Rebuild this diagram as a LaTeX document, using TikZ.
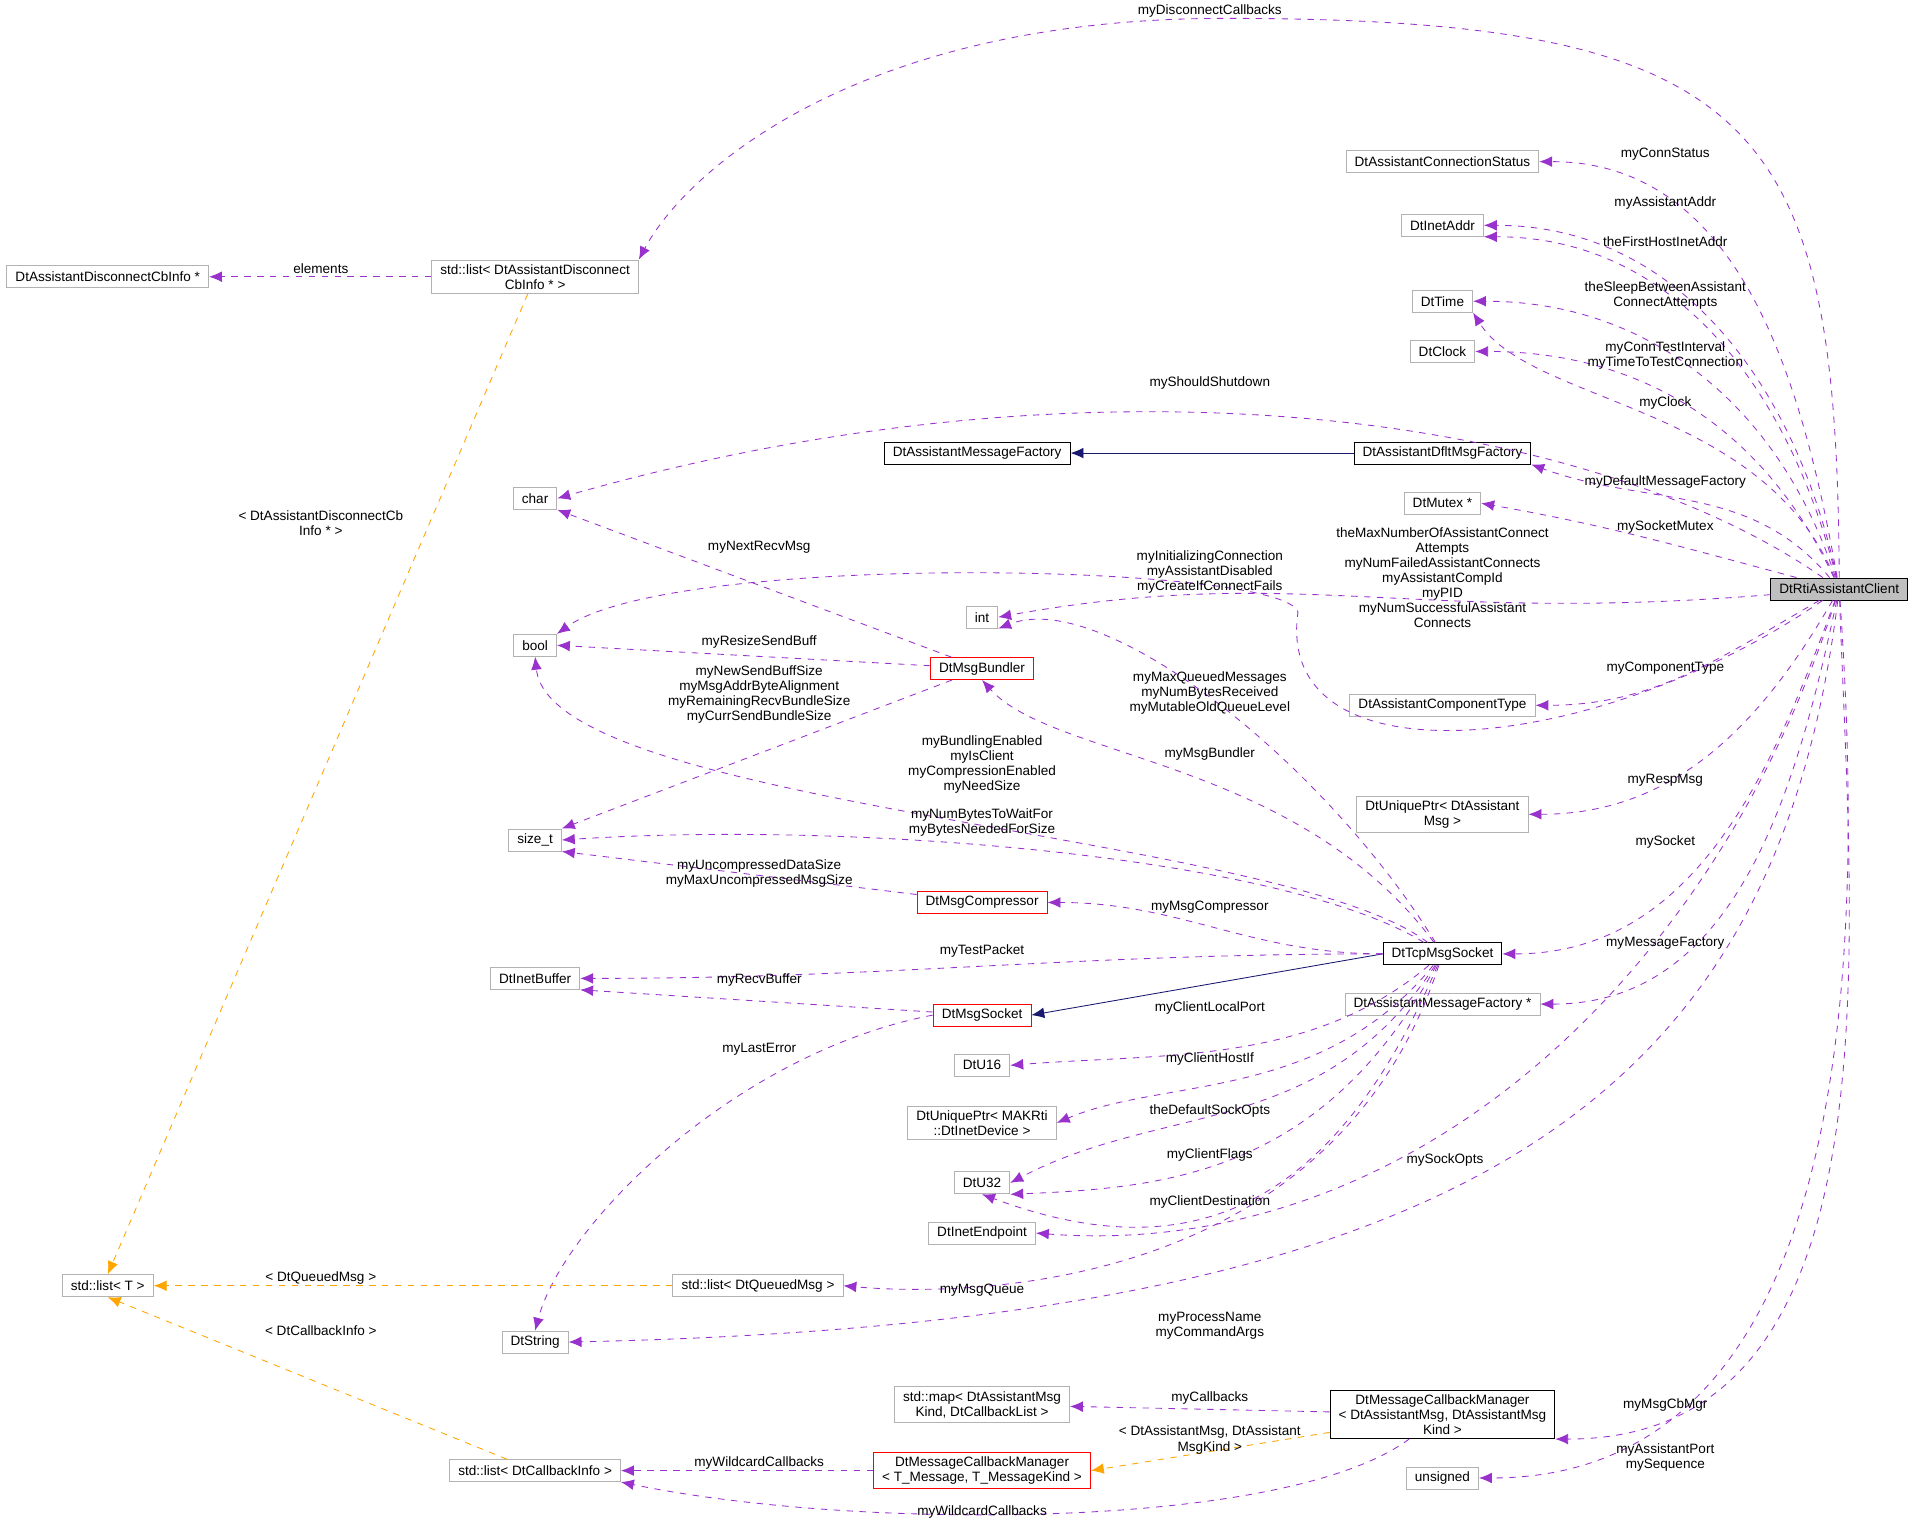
\documentclass[tikz,border=0pt]{standalone}
\usepackage{fontspec}
\setmainfont{Liberation Sans}
\usetikzlibrary{arrows.meta, calc}
\definecolor{memcol}{RGB}{153,50,204}
\definecolor{tplcol}{RGB}{255,165,0}
\definecolor{inhcol}{RGB}{25,25,112}

\begin{document}
\begin{tikzpicture}[x=0.02cm, y=-0.02cm, font=\fontsize{6.3}{7}\selectfont,
    box/.style={draw=gray!60, rectangle, inner xsep=4pt, inner ysep=2pt, minimum height=0.36cm, align=center},
    hbox/.style={box, draw=black},
    rbox/.style={box, draw=red},
    member/.style={dashed, draw=memcol, -{Latex[length=6pt, width=5pt]}},
    templ/.style={dashed, draw=tplcol, -{Latex[length=6pt, width=5pt]}},
    inherit/.style={draw=inhcol, -{Latex[length=6pt, width=5pt]}},
    lbl/.style={align=center, inner sep=0pt}]
    % Frame
    \useasboundingbox (0,0) rectangle (1568,1251);
    % Main class
    \node[hbox, fill=gray!50] (cl) at (1502,481) {DtRtiAssistantClient};
    % Right column
    \node[box] (cs) at (1178,132) {DtAssistantConnectionStatus};
    \node[box] (ia) at (1178,184) {DtInetAddr};
    \node[box] (tm) at (1178,246) {DtTime};
    \node[box] (ck) at (1178,287) {DtClock};
    \node[hbox] (df) at (1178,370) {DtAssistantDfltMsgFactory};
    \node[box] (mx) at (1178,411) {DtMutex *};
    \node[box] (ct) at (1178,576) {DtAssistantComponentType};
    \node[box] (up) at (1178,665) {DtUniquePtr< DtAssistant\\Msg >};
    \node[hbox] (tcp) at (1178,779) {DtTcpMsgSocket};
    \node[box] (mfp) at (1178,820) {DtAssistantMessageFactory *};
    \node[hbox] (mcm) at (1178,1155) {DtMessageCallbackManager\\< DtAssistantMsg, DtAssistantMsg\\Kind >};
    \node[box] (us) at (1178,1207) {unsigned};
    % Middle column
    \node[hbox] (mf) at (798,370) {DtAssistantMessageFactory};
    \node[box] (in) at (802,504) {int};
    \node[rbox] (bd) at (802,546) {DtMsgBundler};
    \node[rbox] (cp) at (802,737) {DtMsgCompressor};
    \node[rbox] (ms) at (802,829) {DtMsgSocket};
    \node[box] (u16) at (802,870) {DtU16};
    \node[box] (dev) at (802,917) {DtUniquePtr< MAKRti\\::DtInetDevice >};
    \node[box] (u32) at (802,966) {DtU32};
    \node[box] (ep) at (802,1007) {DtInetEndpoint};
    \node[box] (qm) at (619,1050) {std::list< DtQueuedMsg >};
    \node[box] (mp) at (802,1147) {std::map< DtAssistantMsg\\Kind, DtCallbackList >};
    \node[rbox] (tmcm) at (802,1201) {DtMessageCallbackManager\\< T\_Message, T\_MessageKind >};
    % Left columns
    \node[box] (dl) at (437,226) {std::list< DtAssistantDisconnect\\CbInfo * >};
    \node[box] (dci) at (88,226) {DtAssistantDisconnectCbInfo *};
    \node[box] (ch) at (437,407) {char};
    \node[box] (bo) at (437,527) {bool};
    \node[box] (sz) at (437,686) {size\_t};
    \node[box] (ib) at (437,799) {DtInetBuffer};
    \node[box] (st) at (437,1096) {DtString};
    \node[box] (cbl) at (437,1201) {std::list< DtCallbackInfo >};
    \node[box] (lt) at (88,1050) {std::list< T >};

    % Inheritance
    \draw[inherit] (df) -- (mf);
    \draw[inherit] (tcp.west) -- (ms.east);

    % Members of the client
    \draw[member] (cl.north) .. controls (1500,100) and (1440,15) .. (1000,15)
        .. controls (700,15) and (560,140) .. (dl.north east);
    \draw[member] (cl) to[out=100, in=0] (cs.east);
    \draw[member] (cl) to[out=102, in=0] (ia.east);
    \draw[member] (cl) to[out=104, in=0] (ia.south east);
    \draw[member] (cl) to[out=108, in=0] (tm.east);
    \draw[member] (cl) .. controls (1440,330) and (1250,330) .. (tm.south east);
    \draw[member] (cl) to[out=115, in=0] (ck.east);
    \draw[member] (cl) .. controls (1300,340) and (900,280) .. (ch.east);
    \draw[member] (cl) to[out=130, in=-20] (df.south east);
    \draw[member] (cl) to[out=165, in=-10] (mx.east);
    \draw[member] (cl) .. controls (1150,510) and (1060,460) .. (in.east);
    \draw[member] (cl) .. controls (1300,620) and (1040,640) .. (1060,500)
        .. controls (1050,460) and (550,450) .. (bo.north east);
    \draw[member] (cl) to[out=210, in=0] (ct.east);
    \draw[member] (cl) to[out=240, in=0] (up.east);
    \draw[member] (cl) to[out=250, in=0] (tcp.east);
    \draw[member] (cl) to[out=258, in=0] (mfp.east);
    \draw[member] (cl) .. controls (1400,800) and (1150,1030) .. (ep.east);
    \draw[member] (cl) .. controls (1450,900) and (1200,1080) .. (st.east);
    \draw[member] (cl) to[out=272, in=0] (mcm.south east);
    \draw[member] (cl) to[out=274, in=0] (us.east);

    % Members of the socket
    \draw[member] (tcp) .. controls (1080,620) and (900,480) .. (in.south east);
    \draw[member] (tcp) .. controls (1060,620) and (860,620) .. (bd.south);
    \draw[member] (tcp) .. controls (1050,680) and (450,660) .. (bo.south);
    \draw[member] (tcp) .. controls (1050,700) and (700,670) .. (sz.east);
    \draw[member] (tcp) to[out=180, in=0] (cp.east);
    \draw[member] (tcp) to[out=180, in=0] (ib.east);
    \draw[member] (tcp) .. controls (1070,870) and (950,860) .. (u16.east);
    \draw[member] (tcp) .. controls (1080,900) and (950,880) .. (dev.east);
    \draw[member] (tcp) .. controls (1080,930) and (950,900) .. (u32.east);
    \draw[member] (tcp) .. controls (1080,960) and (950,970) .. (u32.south east);
    \draw[member] (tcp) .. controls (1080,1010) and (950,1030) .. (u32.south);
    \draw[member] (tcp) .. controls (1090,1050) and (800,1060) .. (qm.east);

    % Members of the helpers
    \draw[member] (bd) -- (ch.south east);
    \draw[member] (bd) -- (bo.east);
    \draw[member] (bd) -- (sz.north east);
    \draw[member] (cp) -- (sz.south east);
    \draw[member] (ms) -- (ib.south east);
    \draw[member] (ms.west) .. controls (600,860) and (460,1000) .. (st.north);
    \draw[member] (dl) -- (dci);
    \draw[member] (mcm) -- (mp);
    \draw[member] (mcm) .. controls (1050,1250) and (700,1250) .. (cbl.south east);
    \draw[member] (tmcm) -- (cbl);
    \draw[templ] (mcm) -- (tmcm.east);
    \draw[templ] (dl) -- (lt.north);
    \draw[templ] (qm) -- (lt);
    \draw[templ] (cbl) -- (lt.south);

    % Labels
    \node[lbl] (l1) at (988,9) {myDisconnectCallbacks};
    \node[lbl] (l2) at (1360,126) {myConnStatus};
    \node[lbl] (l3) at (1360,166) {myAssistantAddr};
    \node[lbl] (l4) at (1360,197) {theFirstHostInetAddr};
    \node[lbl] (l5) at (1360,241) {theSleepBetweenAssistant\\ConnectAttempts};
    \node[lbl] (l6) at (1360,290) {myConnTestInterval\\myTimeToTestConnection};
    \node[lbl] (l7) at (1360,329) {myClock};
    \node[lbl] (l8) at (988,313) {myShouldShutdown};
    \node[lbl] (l9) at (1360,394) {myDefaultMessageFactory};
    \node[lbl] (l10) at (1360,430) {mySocketMutex};
    \node[lbl] (l11) at (1178,472) {theMaxNumberOfAssistantConnect\\Attempts\\myNumFailedAssistantConnects\\myAssistantCompId\\myPID\\myNumSuccessfulAssistant\\Connects};
    \node[lbl] (l12) at (988,467) {myInitializingConnection\\myAssistantDisabled\\myCreateIfConnectFails};
    \node[lbl] (l13) at (1360,546) {myComponentType};
    \node[lbl] (l14) at (1360,637) {myRespMsg};
    \node[lbl] (l15) at (1360,688) {mySocket};
    \node[lbl] (l16) at (1360,770) {myMessageFactory};
    \node[lbl] (l17) at (1180,947) {mySockOpts};
    \node[lbl] (l18) at (988,1083) {myProcessName\\myCommandArgs};
    \node[lbl] (l19) at (1360,1147) {myMsgCbMgr};
    \node[lbl] (l20) at (1360,1190) {myAssistantPort\\mySequence};
    \node[lbl] (l21) at (988,566) {myMaxQueuedMessages\\myNumBytesReceived\\myMutableOldQueueLevel};
    \node[lbl] (l22) at (988,616) {myMsgBundler};
    \node[lbl] (l23) at (802,624) {myBundlingEnabled\\myIsClient\\myCompressionEnabled\\myNeedSize};
    \node[lbl] (l24) at (802,672) {myNumBytesToWaitFor\\myBytesNeededForSize};
    \node[lbl] (l25) at (988,741) {myMsgCompressor};
    \node[lbl] (l26) at (802,777) {myTestPacket};
    \node[lbl] (l27) at (988,823) {myClientLocalPort};
    \node[lbl] (l28) at (988,865) {myClientHostIf};
    \node[lbl] (l29) at (988,907) {theDefaultSockOpts};
    \node[lbl] (l30) at (988,943) {myClientFlags};
    \node[lbl] (l31) at (988,982) {myClientDestination};
    \node[lbl] (l32) at (802,1054) {myMsgQueue};
    \node[lbl] (l33) at (620,447) {myNextRecvMsg};
    \node[lbl] (l34) at (620,524) {myResizeSendBuff};
    \node[lbl] (l35) at (620,567) {myNewSendBuffSize\\myMsgAddrByteAlignment\\myRemainingRecvBundleSize\\myCurrSendBundleSize};
    \node[lbl] (l36) at (620,713) {myUncompressedDataSize\\myMaxUncompressedMsgSize};
    \node[lbl] (l37) at (620,800) {myRecvBuffer};
    \node[lbl] (l38) at (620,857) {myLastError};
    \node[lbl] (l39) at (262,219) {elements};
    \node[lbl] (l40) at (262,427) {< DtAssistantDisconnectCb\\Info * >};
    \node[lbl] (l41) at (262,1044) {< DtQueuedMsg >};
    \node[lbl] (l42) at (262,1087) {< DtCallbackInfo >};
    \node[lbl] (l43) at (988,1142) {myCallbacks};
    \node[lbl] (l44) at (988,1176) {< DtAssistantMsg, DtAssistant\\MsgKind >};
    \node[lbl] (l45) at (802,1235) {myWildcardCallbacks};
    \node[lbl] (l46) at (620,1195) {myWildcardCallbacks};
\end{tikzpicture}
\end{document}
